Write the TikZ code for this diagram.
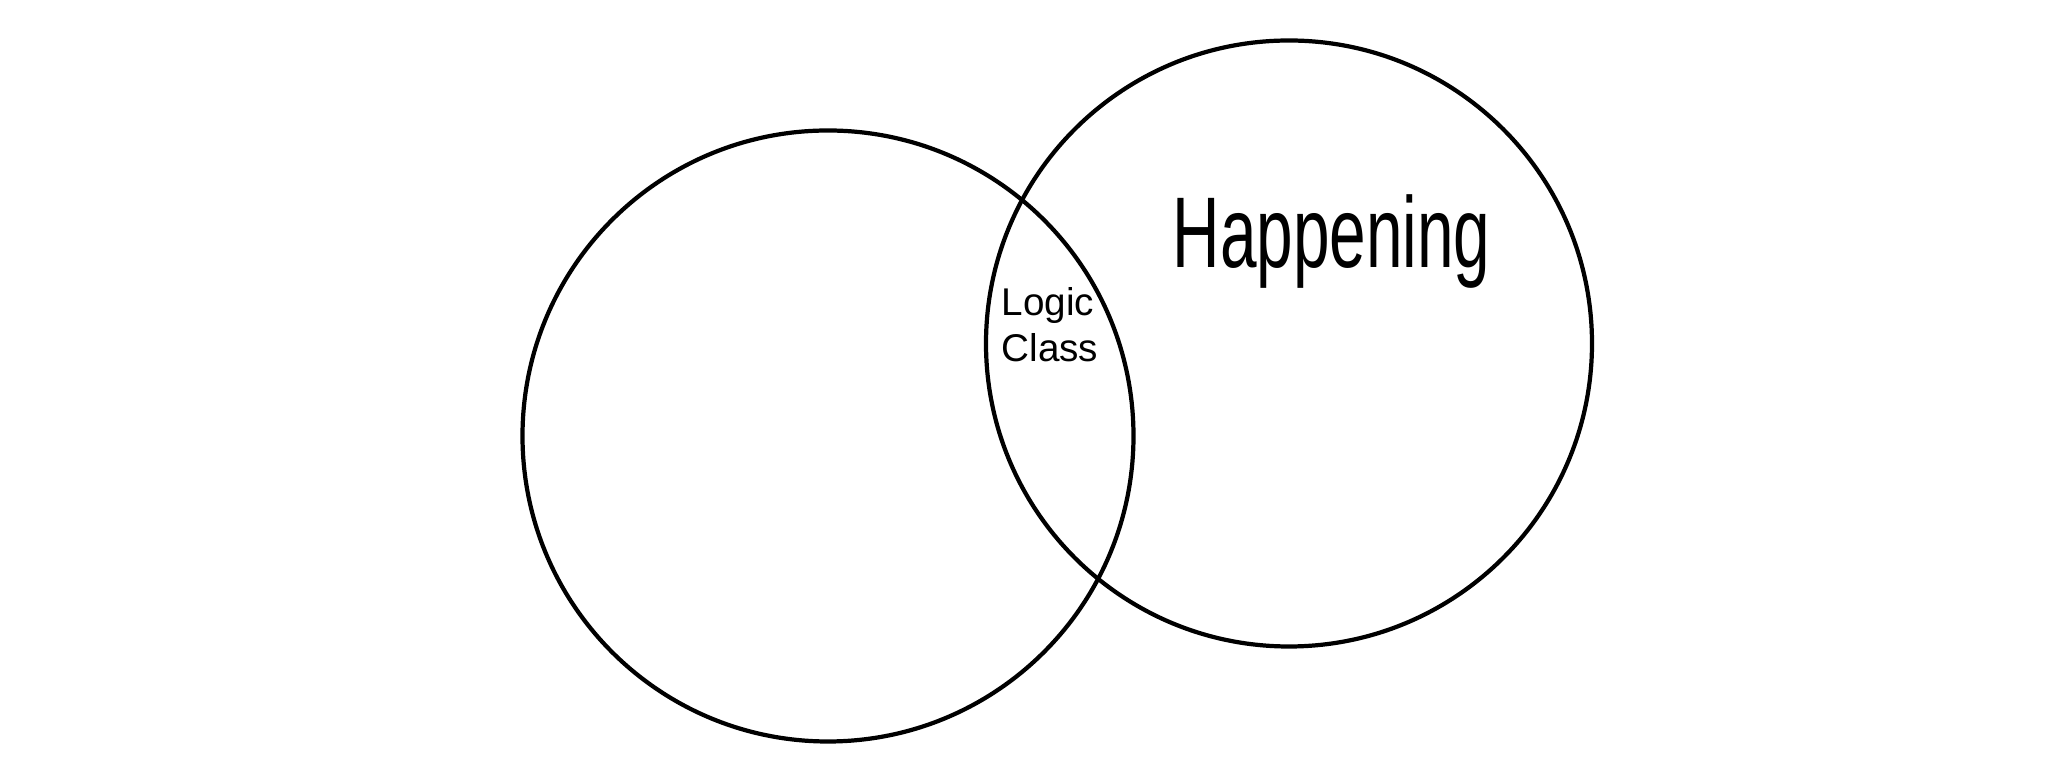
\documentclass[tikz,border=0pt]{standalone}
\usepackage{fontspec}
\setmainfont{Liberation Sans}
\usetikzlibrary{positioning}

\begin{document}
\begin{tikzpicture}[set/.style={circle, draw, line width=1.2pt, inner sep=0pt}]
        \useasboundingbox (0,0) rectangle (20.48,-7.83);
        \node[set, minimum size=6.11cm] (logic) at (8.28,-4.36) {};
        \node[set, minimum size=6.06cm] (happening) at (12.89,-3.435) {};
        % labels
        \node[font=\fontsize{22}{26}\selectfont, xscale=0.85, yscale=1.3, anchor=base west, inner sep=0pt] (hlabel) at (11.72,-2.68) {Happening};
        \node[font=\fontsize{11}{13}\selectfont, align=left] (both) at (10.5,-3.25) {Logic\\Class};
    \end{tikzpicture}
\end{document}
